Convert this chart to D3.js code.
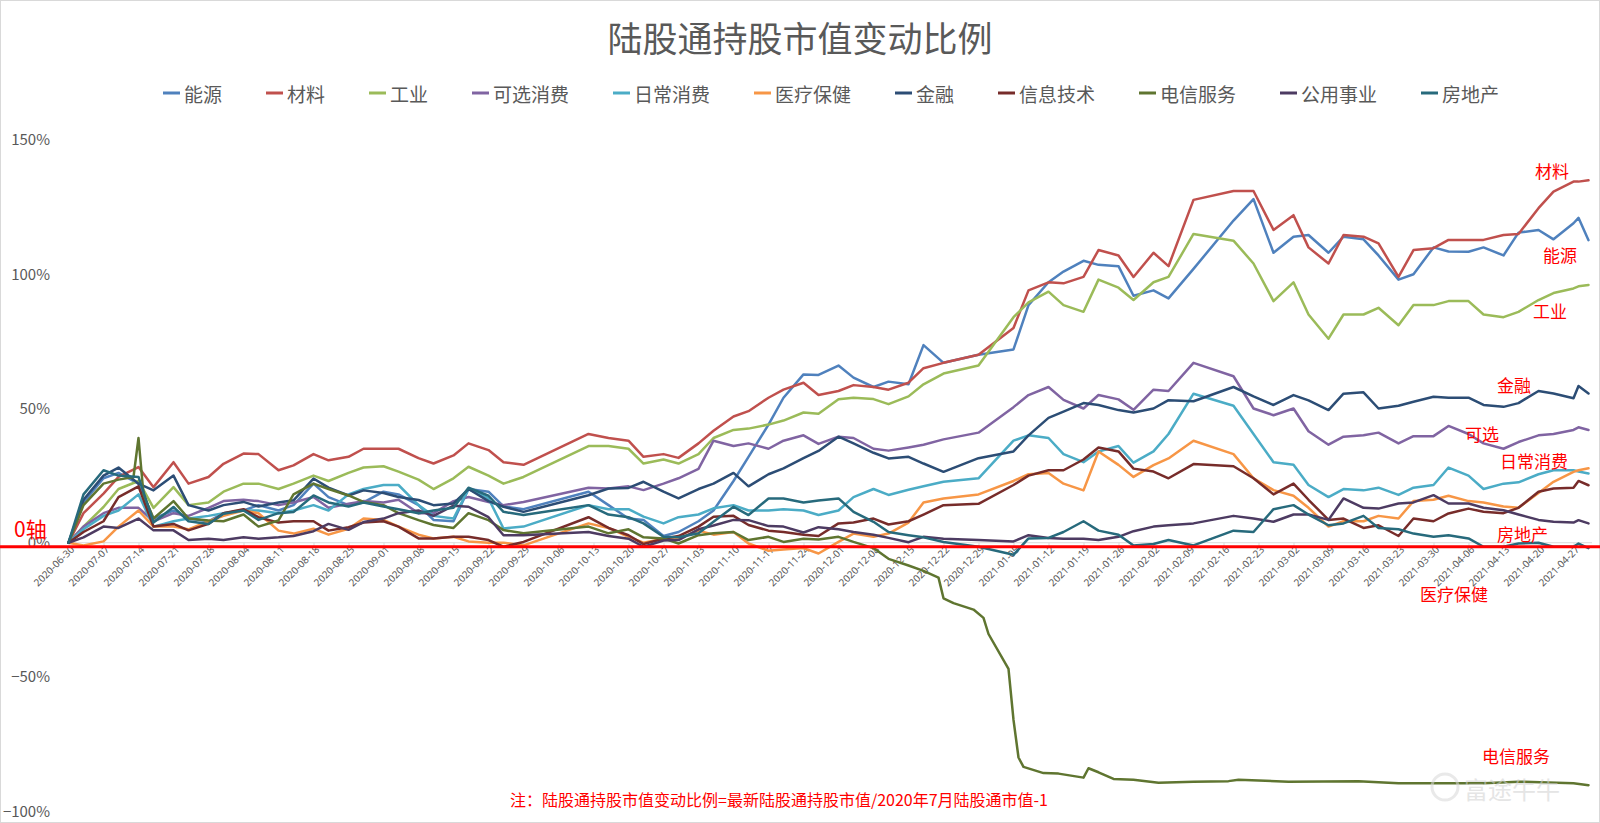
<!DOCTYPE html>
<html><head><meta charset="utf-8">
<script src="https://cdn.jsdelivr.net/npm/d3@7"></script>
<style>
body{margin:0;background:#fff;}
svg{display:block;font-family:"Noto Sans CJK SC","Noto Sans",sans-serif;}
</style>
</head><body>
<svg id="chart" width="1600" height="823"></svg>
<script>
const chartTitle = "陆股通持股市值变动比例";
const noteText = "注：陆股通持股市值变动比例=最新陆股通持股市值/2020年7月陆股通市值-1";

const dates = [
"2020-06-30","2020-07-03","2020-07-07","2020-07-10","2020-07-14","2020-07-17","2020-07-21","2020-07-24","2020-07-28","2020-07-31",
"2020-08-04","2020-08-07","2020-08-11","2020-08-14","2020-08-18","2020-08-21","2020-08-25","2020-08-28","2020-09-01","2020-09-04",
"2020-09-08","2020-09-11","2020-09-15","2020-09-18","2020-09-22","2020-09-25","2020-09-29","2020-10-12","2020-10-16","2020-10-20",
"2020-10-23","2020-10-27","2020-10-30","2020-11-03","2020-11-06","2020-11-10","2020-11-13","2020-11-17","2020-11-20","2020-11-24",
"2020-11-27","2020-12-01","2020-12-04","2020-12-08","2020-12-11","2020-12-15","2020-12-18","2020-12-22","2020-12-29","2021-01-05",
"2021-01-08","2021-01-12","2021-01-15","2021-01-19","2021-01-22","2021-01-26","2021-01-29","2021-02-02","2021-02-05","2021-02-10",
"2021-02-18","2021-02-22","2021-02-26","2021-03-02","2021-03-05","2021-03-09","2021-03-12","2021-03-16","2021-03-19","2021-03-23",
"2021-03-26","2021-03-30","2021-04-02","2021-04-06","2021-04-09","2021-04-13","2021-04-16","2021-04-20","2021-04-23","2021-04-27",
"2021-04-28","2021-04-30"];

// values in %
const energy = [0,15,24,26,22,9,12,9,8,11,
 12,14,12,14,22,17,14,15,19,18,
 14,8.5,8,20,19,13.5,12.5,19,14,9,
 8.5,2.5,4,8,12,23,32,44,54,62.7,
 62.5,66,61.5,58,60,59,73.6,67,70,72,
 88.5,97,101,105,103.5,103,92,94,91,102,
 120,128,108,114,114.6,108,114,113,107,98,
 100,110,108.5,108.4,110,107,115.5,116.5,113,119,
 121,112.7];
const materials = [0,11,18.3,24.5,28.2,20.7,30,22,24.5,29.4,
 33.2,33,27,28.8,33,30.7,32,35,35,35,
 31.5,29.5,32.5,37,34.5,30,29,40.5,39,38,
 32,33,31.6,37,41.7,47,49,54,57,59.6,
 55,56.5,58.7,58,57,59.6,65,67,70,80,
 94,97,96.6,99,109,107,99,108,103,127.7,
 131,131,116.5,122,110,104,114.6,114,111.5,99,
 109,109.7,112.8,112.8,112.8,114.6,115,124.6,130.8,134.5,
 134.5,135];
const industrials = [0,6,13.3,20,23,13,20.7,14,15,19,
 22,22,20,22,25,23,26,28,28.5,26.5,
 23.5,20,24,28.3,25,22,24.5,36,36,35,
 29.5,31,29.5,33,39,42,42.5,44,45.5,48.5,
 48,53.4,54,53.5,51.6,54.5,59,63,66,84,
 89.5,93.5,88.5,86,98,95,90.4,97,99,115,
 112.5,104,90,97,85,76,85,85,87.5,81,
 88.5,88.5,90,90,85,84,86,90.4,93,94.7,
 95.5,96];
const discretionary = [0,6,11,13,13,8,11,10,13,15.5,
 16,15.5,14,15,17,13,14.5,15.5,15,16,
 11,11,15.5,17,15.2,14,15.2,20.5,20.2,21,
 19.6,22,24,27.5,38,36,37,35,38,40,
 36.8,39.5,39,35,34.3,35.5,36.5,38.5,41,50.5,
 55,58,53.2,50,55,53.4,49.5,57,56.5,67,
 62,50,47.5,50,41.5,36.5,39.5,40,41,37,
 39.7,39.7,43.5,40.5,37,35,37.5,40,40.5,42,
 43,42];
const staples = [0,5,10,12,18,6,8,9,10,11,
 12,12,11,12,14,12,18,20,21.5,21.5,
 14,10,9,20,16.5,5.3,6,14,12.5,12.5,
 9.7,7.2,9.5,10.5,12.8,14,12,12,12.5,12,
 10.3,12,17,20,17.8,19.7,21,22.7,24,38,
 40,39,33,30,34,36,29.8,34,40.5,55.5,
 51,40.5,30,29,21.5,17,20,19.5,20.5,17.8,
 20.5,21.5,28,25,20,22,22.5,25.5,27,27,
 26.5,25.8];
const healthcare = [0,-1,0.5,6,12,6,6,5,8,10,
 12,11,4.5,3.4,5.2,3,5.2,9,8.5,6,
 3,1.6,2.2,0.5,0,0,-1,7.2,5.5,2.2,
 0,1.5,1.6,4.5,3,4,-0.3,-3,-2.5,-2,
 -4,0.3,3.4,2.2,3.4,7.5,15,16.5,18,23,
 25.5,26,22,19.5,34,29,24.5,28.9,31.4,38,
 33,24,19.6,17.5,13,6,8,8,10,9,
 15.5,16,17.5,15.5,15,13.5,13,18.5,22.7,26.4,
 27,27.7];
const financials = [0,16,25,28,22,19.5,25,14,12,14,
 15.2,13.5,15,15.8,23.9,20.5,17.6,19.5,18.5,17,
 15.9,14,14.6,20,15.5,13.4,11.5,17.7,20.2,20.4,
 22.7,19,16.5,20,22,26,21,25.5,27.7,31.5,
 34.2,39.5,37,33.5,31.4,32,29.5,26.4,31.5,34,
 40,46.5,48.8,52,51.3,49.4,48.5,50,53.1,52.7,
 58,54.5,51.3,55,53,49.4,55.5,56,50,51,
 52.5,54.4,54,54,51.3,50.6,52,56.5,55.6,53.8,
 58.4,55.6];
const infotech = [0,4,8,17,21,6,7,4.6,7,11,
 12.5,9.5,7.5,8,8,4.5,5.8,7.5,8,6,
 1.6,1.6,2.2,2.2,1,-1.5,0.3,9.5,5.5,2.8,
 -0.5,1.5,2.5,6,9.7,10,6.6,4.5,4,3,
 2.5,7.2,7.5,9,6.8,8,10.5,14,14.5,21.5,
 25,27,27,31,35.5,34,27.6,26.5,24,29.3,
 28.5,24,18,22,16,8.5,9,5.5,6.5,2.5,
 9,8,10.9,12.7,11.5,11,13,19,20.2,20.5,
 23,21.4];
const utilities = [0,2,6,5.5,9,4.6,4.6,1,1.5,1,
 2,1.5,2,2.5,4.3,7,4.8,7.7,9,11,
 12,10,13.8,13.4,9.5,2.8,2.8,4,2.5,1.5,
 -1.5,0.8,1,5,6.4,8.5,8.4,6.2,6,3.8,
 5.8,5,4,3,1.8,0.2,2.2,1.5,1,0.5,
 2.8,1.8,1.5,1.5,1,2.2,4.3,6,6.5,7.2,
 10,9,7.8,10.5,10.5,8.5,16.5,13,12.7,14.6,
 15,17.7,14.6,14.6,13,12.1,10.5,8.5,7.8,7.5,
 8.4,7.2];
const realestate = [0,18,27,25,24.5,7.5,13.3,8,7,10.8,
 12,8.5,11,11.4,17.6,15,13.5,15,13.5,12.5,
 11,12,13,20.5,17.5,11.5,10.3,14,10.5,9.5,
 7.2,2.2,2,3.5,7.8,13.4,10.3,16.5,16.5,15,
 15.7,16.5,11.5,7.8,4,2.8,2,0.3,-1.5,-4.5,
 1.6,1.8,4,8,4.5,3,-1,-0.5,1,-1,
 4.5,4,12.5,14,10.5,6.5,7.2,10,5.5,5,
 3.4,2.2,2.8,1.6,-1.5,-1.5,-0.3,0,-1.5,-1.5,
 -0.3,-2];

// telecom has its own (denser around its spike and drop) date list
const telecomDates = [
"2020-06-30","2020-07-03","2020-07-07","2020-07-10","2020-07-13","2020-07-14","2020-07-15","2020-07-17","2020-07-21","2020-07-24",
"2020-07-28","2020-07-31","2020-08-04","2020-08-07","2020-08-11","2020-08-14","2020-08-18","2020-08-21","2020-08-25","2020-08-28",
"2020-09-01","2020-09-04","2020-09-08","2020-09-11","2020-09-15","2020-09-18","2020-09-22","2020-09-25","2020-09-29","2020-10-12",
"2020-10-16","2020-10-20","2020-10-23","2020-10-27","2020-10-30","2020-11-03","2020-11-06","2020-11-10","2020-11-13","2020-11-17",
"2020-11-20","2020-11-24","2020-11-27","2020-12-01","2020-12-04","2020-12-08","2020-12-11","2020-12-15","2020-12-18","2020-12-21",
"2020-12-22","2020-12-24","2020-12-28","2020-12-30","2020-12-31","2021-01-04","2021-01-05","2021-01-06","2021-01-07","2021-01-11",
"2021-01-14","2021-01-19","2021-01-20","2021-01-22","2021-01-25","2021-01-29","2021-02-03","2021-02-10","2021-02-17","2021-02-19",
"2021-03-01","2021-03-15","2021-03-23","2021-04-09","2021-04-16","2021-04-22","2021-04-27","2021-04-30"];
const telecom = [0,14,22,23.5,24.5,39,18,9,15.5,9,
 8.3,8,10.5,6,8.3,18,22,20,17.6,15.2,
 14,11,8.4,6.6,5.5,11,8.4,4.7,3.5,6,
 3.5,5,2,1.6,-0.3,2.8,3.5,4,1,2.2,
 0.3,1.5,1.2,2.2,0.3,-2,-6,-8.5,-10.5,-13,
 -20.7,-22.5,-24.9,-28,-34,-47,-66,-80,-83.5,-85.8,
 -86,-87.5,-84,-85.5,-88,-88.3,-89.4,-89,-88.8,-88.3,
 -89,-88.8,-89.6,-89.6,-89,-89.3,-89.6,-90.3];

const seriesNames = ["能源","材料","工业","可选消费","日常消费","医疗保健","金融","信息技术","电信服务","公用事业","房地产"];
const seriesColors = ["#4F81BD","#C0504D","#9BBB59","#8064A2","#4BACC6","#F79646","#2C4D75","#772C2A","#5F7530","#4D3B62","#276A7C"];

const xTickLabels = ["2020-06-30","2020-07-07","2020-07-14","2020-07-21","2020-07-28","2020-08-04","2020-08-11","2020-08-18","2020-08-25","2020-09-01","2020-09-08","2020-09-15","2020-09-22","2020-09-29","2020-10-06","2020-10-13","2020-10-20","2020-10-27","2020-11-03","2020-11-10","2020-11-17","2020-11-24","2020-12-01","2020-12-08","2020-12-15","2020-12-22","2020-12-29","2021-01-05","2021-01-12","2021-01-19","2021-01-26","2021-02-02","2021-02-09","2021-02-16","2021-02-23","2021-03-02","2021-03-09","2021-03-16","2021-03-23","2021-03-30","2021-04-06","2021-04-13","2021-04-20","2021-04-27"];
const yTickValues = [1.5, 1, 0.5, 0, -0.5, -1];

const endLabels = [
 {text:"材料", x:1535, y:170},
 {text:"能源", x:1543, y:254},
 {text:"工业", x:1533, y:310},
 {text:"金融", x:1497, y:384},
 {text:"可选", x:1465, y:433},
 {text:"日常消费", x:1500, y:460},
 {text:"房地产", x:1497, y:533},
 {text:"医疗保健", x:1420, y:593},
 {text:"电信服务", x:1482, y:755}
];

const parse = d3.utcParse("%Y-%m-%d");
const svg = d3.select("#chart");

svg.append("rect").attr("x",0.5).attr("y",0.5).attr("width",1599).attr("height",822)
  .attr("fill","#fff").attr("stroke","#d9d9d9");

const x = d3.scaleUtc().domain([parse("2020-06-30"), parse("2021-04-27")]).range([68.5, 1573.5]);
const y = d3.scaleLinear().domain([-1, 1.5]).range([811.2, 140]);

// title
svg.append("text").attr("x",800).attr("y",36).attr("text-anchor","middle")
  .attr("dominant-baseline","central").attr("font-size",35).attr("fill","#595959").text(chartTitle);

// legend
let lx = 163;
seriesNames.forEach((n,i)=>{
  const g = svg.append("g").attr("transform",`translate(${lx},93)`);
  g.append("line").attr("x1",0).attr("x2",17).attr("y1",0).attr("y2",0)
    .attr("stroke",seriesColors[i]).attr("stroke-width",3);
  g.append("text").attr("x",21).attr("y",0).attr("dominant-baseline","central")
    .attr("font-size",19).attr("fill","#595959").text(n);
  lx += 65 + 19*n.length;
});

// y axis
const yAxis = svg.append("g").attr("transform","translate(53,0)")
  .call(d3.axisLeft(y).tickValues(yTickValues).tickFormat(d3.format(".0%")).tickSize(0).tickPadding(3));
yAxis.select(".domain").remove();
yAxis.selectAll("text").attr("font-size",15).attr("fill","#595959")
  .attr("font-family","'Noto Sans CJK SC','Noto Sans',sans-serif");

// x axis at 0
const xAxis = svg.append("g").attr("transform",`translate(0,${y(0)})`)
  .call(d3.axisBottom(x).tickValues(xTickLabels.map(parse)).tickFormat(d3.utcFormat("%Y-%m-%d")).tickSize(5));
xAxis.select(".domain").attr("stroke","#d9d9d9").attr("d",`M68.5,0H1592`);
xAxis.selectAll(".tick line").attr("stroke","#d9d9d9");
xAxis.selectAll("text").attr("font-size",10).attr("fill","#595959")
  .attr("font-family","'Noto Sans','DejaVu Sans',sans-serif")
  .attr("text-anchor","end").attr("x",-1).attr("y",6).attr("dy","0.35em")
  .attr("transform","rotate(-45)");

// series
const common = dates.map(parse);
const tDates = telecomDates.map(parse);
const allSeries = [energy, materials, industrials, discretionary, staples, healthcare, financials, infotech, telecom, utilities, realestate];
const line = d3.line().x(d=>x(d[0])).y(d=>y(d[1]/100)).curve(d3.curveLinear);
allSeries.forEach((vals,i)=>{
  const ds = (vals === telecom) ? tDates : common;
  const pts = vals.map((v,j)=>[ds[j], v]);
  svg.append("path").datum(pts).attr("d",line).attr("fill","none")
    .attr("stroke",seriesColors[i]).attr("stroke-width",2.5)
    .attr("stroke-linejoin","round").attr("stroke-linecap","round");
});

// red zero line
svg.append("line").attr("x1",0).attr("x2",1600).attr("y1",y(0)+4).attr("y2",y(0)+4)
  .attr("stroke","#FF0000").attr("stroke-width",3);
svg.append("text").attr("x",14).attr("y",528).attr("dominant-baseline","central")
  .attr("font-size",21).attr("fill","#FF0000").text("0轴");

// end labels
endLabels.forEach(l=>{
  svg.append("text").attr("x",l.x).attr("y",l.y).attr("dominant-baseline","central")
    .attr("font-size",17).attr("fill","#FF0000").text(l.text);
});

// note
svg.append("text").attr("x",510).attr("y",799).attr("dominant-baseline","central")
  .attr("font-size",16).attr("fill","#FF0000").text(noteText);

// watermark
const wm = svg.append("g").attr("opacity",0.55);
wm.append("circle").attr("cx",1445).attr("cy",787).attr("r",13).attr("fill","none")
  .attr("stroke","#d8d8d8").attr("stroke-width",3);
wm.append("text").attr("x",1464).attr("y",788).attr("dominant-baseline","central")
  .attr("font-size",24).attr("fill","#d0d0d0").text("富途牛牛");
</script>
</body></html>
